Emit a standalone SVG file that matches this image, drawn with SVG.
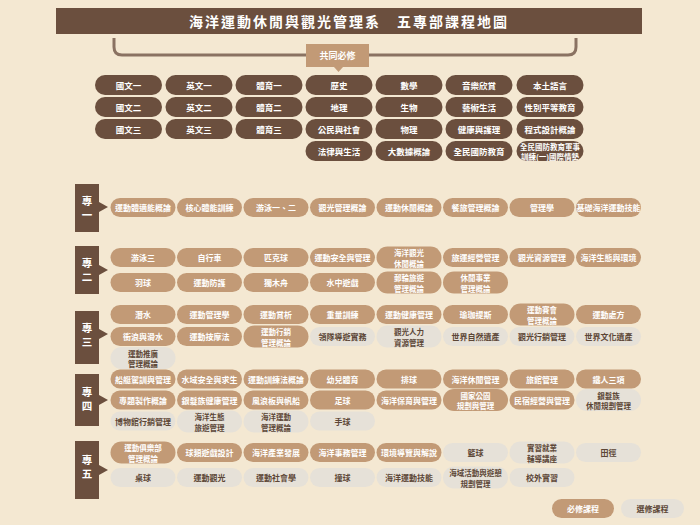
<svg xmlns="http://www.w3.org/2000/svg" width="700" height="525" viewBox="0 0 700 525">
<style>
text{font-family:"Noto Sans CJK TC","Noto Sans CJK SC",sans-serif;font-weight:bold;text-anchor:middle;dominant-baseline:central}
.c rect{fill:#6b4f3e}
.c text{fill:#ffffff;font-size:8.5px}
.r rect{fill:#c29a76}
.r text{fill:#ffffff;font-size:8px}
.e rect{fill:#e6e1d8}
.e text{fill:#5c4636;font-size:8px}
.r text.t2,.e text.t2,.c text.t2{font-size:7.5px}
.s rect,.s path{fill:#6b4f3e}
.s text{fill:#ffffff;font-size:10.5px}
</style>
<defs>
<clipPath id="clipc25"><rect x="516.5" y="141" width="67" height="20" rx="10"/></clipPath>
</defs>
<rect width="700" height="525" fill="#f4e8d2"/>
<g id="title">
<rect x="56" y="8" width="586" height="26" fill="#6b4f3e"/>
<text x="349" y="21" fill="#ffffff" style="font-size:14px;letter-spacing:2px">海洋運動休閒與觀光管理系　五專部課程地圖</text>
</g>
<g id="connectors">
<path d="M114 38 V47 Q114 55 122 55 H568 Q576 55 576 47 V38" fill="none" stroke="#8a7262" stroke-width="3"/>
</g>
<g id="common-label">
<rect x="306" y="44" width="63" height="23" fill="#c29a76"/>
<path d="M334 67 L343 67 L338.5 72 Z" fill="#c29a76"/>
<text x="337.5" y="55.5" fill="#ffffff" style="font-size:9px">共同必修</text>
</g>
<g id="common" class="c">
<g id="c1"><rect x="95" y="75" width="67" height="20" rx="10"/><text x="128.5" y="85">國文一</text></g>
<g id="c2"><rect x="95" y="97" width="67" height="20" rx="10"/><text x="128.5" y="107">國文二</text></g>
<g id="c3"><rect x="95" y="119" width="67" height="20" rx="10"/><text x="128.5" y="129">國文三</text></g>
<g id="c4"><rect x="165.5" y="75" width="67" height="20" rx="10"/><text x="199" y="85">英文一</text></g>
<g id="c5"><rect x="165.5" y="97" width="67" height="20" rx="10"/><text x="199" y="107">英文二</text></g>
<g id="c6"><rect x="165.5" y="119" width="67" height="20" rx="10"/><text x="199" y="129">英文三</text></g>
<g id="c7"><rect x="235.5" y="75" width="67" height="20" rx="10"/><text x="269" y="85">體育一</text></g>
<g id="c8"><rect x="235.5" y="97" width="67" height="20" rx="10"/><text x="269" y="107">體育二</text></g>
<g id="c9"><rect x="235.5" y="119" width="67" height="20" rx="10"/><text x="269" y="129">體育三</text></g>
<g id="c10"><rect x="305.5" y="75" width="67" height="20" rx="10"/><text x="339" y="85">歷史</text></g>
<g id="c11"><rect x="305.5" y="97" width="67" height="20" rx="10"/><text x="339" y="107">地理</text></g>
<g id="c12"><rect x="305.5" y="119" width="67" height="20" rx="10"/><text x="339" y="129">公民與社會</text></g>
<g id="c13"><rect x="305.5" y="141" width="67" height="20" rx="10"/><text x="339" y="151">法律與生活</text></g>
<g id="c14"><rect x="375.5" y="75" width="67" height="20" rx="10"/><text x="409" y="85">數學</text></g>
<g id="c15"><rect x="375.5" y="97" width="67" height="20" rx="10"/><text x="409" y="107">生物</text></g>
<g id="c16"><rect x="375.5" y="119" width="67" height="20" rx="10"/><text x="409" y="129">物理</text></g>
<g id="c17"><rect x="375.5" y="141" width="67" height="20" rx="10"/><text x="409" y="151">大數據概論</text></g>
<g id="c18"><rect x="445.5" y="75" width="67" height="20" rx="10"/><text x="479" y="85">音樂欣賞</text></g>
<g id="c19"><rect x="445.5" y="97" width="67" height="20" rx="10"/><text x="479" y="107">藝術生活</text></g>
<g id="c20"><rect x="445.5" y="119" width="67" height="20" rx="10"/><text x="479" y="129">健康與護理</text></g>
<g id="c21"><rect x="445.5" y="141" width="67" height="20" rx="10"/><text x="479" y="151">全民國防教育</text></g>
<g id="c22"><rect x="516.5" y="75" width="67" height="20" rx="10"/><text x="550" y="85">本土語言</text></g>
<g id="c23"><rect x="516.5" y="97" width="67" height="20" rx="10"/><text x="550" y="107">性別平等教育</text></g>
<g id="c24"><rect x="516.5" y="119" width="67" height="20" rx="10"/><text x="550" y="129">程式設計概論</text></g>
<g id="c25"><rect x="516.5" y="141" width="67" height="20" rx="10"/><g clip-path="url(#clipc25)"><text class="t2" x="550" y="146">全民國防教育軍事<tspan x="550" y="156">訓練(一)國際情勢</tspan></text></g></g>
</g>
<g id="sec1" class="s"><rect x="75" y="184" width="24" height="48"/><path d="M99 202 L108 207 L99 212 Z"/><text x="87" y="200">專</text><text x="87" y="214">一</text></g>
<g id="sec2" class="s"><rect x="75" y="246" width="24" height="48"/><path d="M99 265 L108 270 L99 275 Z"/><text x="87" y="262">專</text><text x="87" y="276">二</text></g>
<g id="sec3" class="s"><rect x="75" y="311" width="24" height="53"/><path d="M99 329 L108 334 L99 339 Z"/><text x="87" y="327">專</text><text x="87" y="341">三</text></g>
<g id="sec4" class="s"><rect x="75" y="374" width="24" height="52"/><path d="M99 395 L108 400 L99 405 Z"/><text x="87" y="391">專</text><text x="87" y="405">四</text></g>
<g id="sec5" class="s"><rect x="75" y="441" width="24" height="58"/><path d="M99 465 L108 470 L99 475 Z"/><text x="87" y="459">專</text><text x="87" y="473">五</text></g>
<g id="year1">
<g id="a1" class="r"><rect x="110.5" y="198" width="65" height="19" rx="9.5"/><text x="143" y="207.5">運動體適能概論</text></g>
<g id="a2" class="r"><rect x="177" y="198" width="65" height="19" rx="9.5"/><text x="209.5" y="207.5">核心體能訓練</text></g>
<g id="a3" class="r"><rect x="243.5" y="198" width="65" height="19" rx="9.5"/><text x="276" y="207.5">游泳一、二</text></g>
<g id="a4" class="r"><rect x="310" y="198" width="65" height="19" rx="9.5"/><text x="342.5" y="207.5">觀光管理概論</text></g>
<g id="a5" class="r"><rect x="376.5" y="198" width="65" height="19" rx="9.5"/><text x="409" y="207.5">運動休閒概論</text></g>
<g id="a6" class="r"><rect x="443" y="198" width="65" height="19" rx="9.5"/><text x="475.5" y="207.5">餐旅管理概論</text></g>
<g id="a7" class="r"><rect x="509.5" y="198" width="65" height="19" rx="9.5"/><text x="542" y="207.5">管理學</text></g>
<g id="a8" class="r"><rect x="576" y="198" width="65" height="19" rx="9.5"/><text x="608.5" y="207.5">基礎海洋運動技能</text></g>
</g>
<g id="year2">
<g id="b1" class="r"><rect x="110.5" y="248" width="65" height="19" rx="9.5"/><text x="143" y="257.5">游泳三</text></g>
<g id="b2" class="r"><rect x="177" y="248" width="65" height="19" rx="9.5"/><text x="209.5" y="257.5">自行車</text></g>
<g id="b3" class="r"><rect x="243.5" y="248" width="65" height="19" rx="9.5"/><text x="276" y="257.5">匹克球</text></g>
<g id="b4" class="r"><rect x="310" y="248" width="65" height="19" rx="9.5"/><text x="342.5" y="257.5">運動安全與管理</text></g>
<g id="b5" class="r"><rect x="376.5" y="246.5" width="65" height="22" rx="11"/><text class="t2" x="409" y="252.5">海洋觀光<tspan x="409" y="262.5">休閒概論</tspan></text></g>
<g id="b6" class="r"><rect x="443" y="248" width="65" height="19" rx="9.5"/><text x="475.5" y="257.5">旅運經營管理</text></g>
<g id="b7" class="r"><rect x="509.5" y="248" width="65" height="19" rx="9.5"/><text x="542" y="257.5">觀光資源管理</text></g>
<g id="b8" class="r"><rect x="576" y="248" width="65" height="19" rx="9.5"/><text x="608.5" y="257.5">海洋生態與環境</text></g>
<g id="b9" class="r"><rect x="110.5" y="273" width="65" height="19" rx="9.5"/><text x="143" y="282.5">羽球</text></g>
<g id="b10" class="r"><rect x="177" y="273" width="65" height="19" rx="9.5"/><text x="209.5" y="282.5">運動防護</text></g>
<g id="b11" class="r"><rect x="243.5" y="273" width="65" height="19" rx="9.5"/><text x="276" y="282.5">獨木舟</text></g>
<g id="b12" class="r"><rect x="310" y="273" width="65" height="19" rx="9.5"/><text x="342.5" y="282.5">水中遊戲</text></g>
<g id="b13" class="r"><rect x="376.5" y="271.5" width="65" height="22" rx="11"/><text class="t2" x="409" y="277.5">郵輪旅遊<tspan x="409" y="287.5">管理概論</tspan></text></g>
<g id="b14" class="r"><rect x="443" y="271.5" width="65" height="22" rx="11"/><text class="t2" x="475.5" y="277.5">休閒事業<tspan x="475.5" y="287.5">管理概論</tspan></text></g>
</g>
<g id="year3">
<g id="d1" class="r"><rect x="110.5" y="305" width="65" height="19" rx="9.5"/><text x="143" y="314.5">潛水</text></g>
<g id="d2" class="r"><rect x="177" y="305" width="65" height="19" rx="9.5"/><text x="209.5" y="314.5">運動管理學</text></g>
<g id="d3" class="r"><rect x="243.5" y="305" width="65" height="19" rx="9.5"/><text x="276" y="314.5">運動賞析</text></g>
<g id="d4" class="r"><rect x="310" y="305" width="65" height="19" rx="9.5"/><text x="342.5" y="314.5">重量訓練</text></g>
<g id="d5" class="r"><rect x="376.5" y="305" width="65" height="19" rx="9.5"/><text x="409" y="314.5">運動健康管理</text></g>
<g id="d6" class="r"><rect x="443" y="305" width="65" height="19" rx="9.5"/><text x="475.5" y="314.5">瑜珈提斯</text></g>
<g id="d7" class="r"><rect x="509.5" y="303.5" width="65" height="22" rx="11"/><text class="t2" x="542" y="309.5">運動賽會<tspan x="542" y="319.5">管理概論</tspan></text></g>
<g id="d8" class="r"><rect x="576" y="305" width="65" height="19" rx="9.5"/><text x="608.5" y="314.5">運動處方</text></g>
<g id="d9" class="r"><rect x="110.5" y="327" width="65" height="19" rx="9.5"/><text x="143" y="336.5">衝浪與滑水</text></g>
<g id="d10" class="r"><rect x="177" y="327" width="65" height="19" rx="9.5"/><text x="209.5" y="336.5">運動按摩法</text></g>
<g id="d11" class="r"><rect x="243.5" y="325.5" width="65" height="22" rx="11"/><text class="t2" x="276" y="331.5">運動行銷<tspan x="276" y="341.5">管理概論</tspan></text></g>
<g id="d12" class="e"><rect x="310" y="327" width="65" height="19" rx="9.5"/><text x="342.5" y="336.5">領隊導遊實務</text></g>
<g id="d13" class="e"><rect x="376.5" y="325.5" width="65" height="22" rx="11"/><text class="t2" x="409" y="331.5">觀光人力<tspan x="409" y="341.5">資源管理</tspan></text></g>
<g id="d14" class="e"><rect x="443" y="327" width="65" height="19" rx="9.5"/><text x="475.5" y="336.5">世界自然遺產</text></g>
<g id="d15" class="e"><rect x="509.5" y="327" width="65" height="19" rx="9.5"/><text x="542" y="336.5">觀光行銷管理</text></g>
<g id="d16" class="e"><rect x="576" y="327" width="65" height="19" rx="9.5"/><text x="608.5" y="336.5">世界文化遺產</text></g>
<g id="d17" class="e"><rect x="110.5" y="347" width="65" height="22" rx="11"/><text class="t2" x="143" y="353">運動推廣<tspan x="143" y="363">管理概論</tspan></text></g>
</g>
<g id="year4">
<g id="f1" class="r"><rect x="110.5" y="369.5" width="65" height="19" rx="9.5"/><text x="143" y="379">船艇駕訓與管理</text></g>
<g id="f2" class="r"><rect x="177" y="369.5" width="65" height="19" rx="9.5"/><text x="209.5" y="379">水域安全與求生</text></g>
<g id="f3" class="r"><rect x="243.5" y="369.5" width="65" height="19" rx="9.5"/><text x="276" y="379">運動訓練法概論</text></g>
<g id="f4" class="r"><rect x="310" y="369.5" width="65" height="19" rx="9.5"/><text x="342.5" y="379">幼兒體育</text></g>
<g id="f5" class="r"><rect x="376.5" y="369.5" width="65" height="19" rx="9.5"/><text x="409" y="379">排球</text></g>
<g id="f6" class="r"><rect x="443" y="369.5" width="65" height="19" rx="9.5"/><text x="475.5" y="379">海洋休閒管理</text></g>
<g id="f7" class="r"><rect x="509.5" y="369.5" width="65" height="19" rx="9.5"/><text x="542" y="379">旅館管理</text></g>
<g id="f8" class="r"><rect x="576" y="369.5" width="65" height="19" rx="9.5"/><text x="608.5" y="379">鐵人三項</text></g>
<g id="f9" class="r"><rect x="110.5" y="390.5" width="65" height="19" rx="9.5"/><text x="143" y="400">專題製作概論</text></g>
<g id="f10" class="r"><rect x="177" y="390.5" width="65" height="19" rx="9.5"/><text x="209.5" y="400">銀髮族健康管理</text></g>
<g id="f11" class="r"><rect x="243.5" y="390.5" width="65" height="19" rx="9.5"/><text x="276" y="400">風浪板與帆船</text></g>
<g id="f12" class="r"><rect x="310" y="390.5" width="65" height="19" rx="9.5"/><text x="342.5" y="400">足球</text></g>
<g id="f13" class="r"><rect x="376.5" y="390.5" width="65" height="19" rx="9.5"/><text x="409" y="400">海洋保育與管理</text></g>
<g id="f14" class="r"><rect x="443" y="389" width="65" height="22" rx="11"/><text class="t2" x="475.5" y="395">國家公園<tspan x="475.5" y="405">規劃與管理</tspan></text></g>
<g id="f15" class="r"><rect x="509.5" y="390.5" width="65" height="19" rx="9.5"/><text x="542" y="400">民宿經營與管理</text></g>
<g id="f16" class="e"><rect x="576" y="389" width="65" height="22" rx="11"/><text class="t2" x="608.5" y="395">銀髮族<tspan x="608.5" y="405">休閒規劃管理</tspan></text></g>
<g id="f17" class="e"><rect x="110.5" y="411.5" width="65" height="19" rx="9.5"/><text x="143" y="421">博物館行銷管理</text></g>
<g id="f18" class="e"><rect x="177" y="410.5" width="65" height="22" rx="11"/><text class="t2" x="209.5" y="416.5">海洋生態<tspan x="209.5" y="426.5">旅遊管理</tspan></text></g>
<g id="f19" class="e"><rect x="243.5" y="410.5" width="65" height="22" rx="11"/><text class="t2" x="276" y="416.5">海洋運動<tspan x="276" y="426.5">管理概論</tspan></text></g>
<g id="f20" class="e"><rect x="310" y="411.5" width="65" height="19" rx="9.5"/><text x="342.5" y="421">手球</text></g>
</g>
<g id="year5">
<g id="g1" class="r"><rect x="110.5" y="441.5" width="65" height="22" rx="11"/><text class="t2" x="143" y="447.5">運動俱樂部<tspan x="143" y="457.5">管理概論</tspan></text></g>
<g id="g2" class="r"><rect x="177" y="443" width="65" height="19" rx="9.5"/><text x="209.5" y="452.5">球類遊戲設計</text></g>
<g id="g3" class="r"><rect x="243.5" y="443" width="65" height="19" rx="9.5"/><text x="276" y="452.5">海洋產業發展</text></g>
<g id="g4" class="r"><rect x="310" y="443" width="65" height="19" rx="9.5"/><text x="342.5" y="452.5">海洋事務管理</text></g>
<g id="g5" class="r"><rect x="376.5" y="443" width="65" height="19" rx="9.5"/><text x="409" y="452.5">環境導覽與解說</text></g>
<g id="g6" class="e"><rect x="443" y="443" width="65" height="19" rx="9.5"/><text x="475.5" y="452.5">籃球</text></g>
<g id="g7" class="e"><rect x="509.5" y="441.5" width="65" height="22" rx="11"/><text class="t2" x="542" y="447.5">實習就業<tspan x="542" y="457.5">輔導講座</tspan></text></g>
<g id="g8" class="e"><rect x="576" y="443" width="65" height="19" rx="9.5"/><text x="608.5" y="452.5">田徑</text></g>
<g id="g9" class="e"><rect x="110.5" y="468" width="65" height="19" rx="9.5"/><text x="143" y="477.5">桌球</text></g>
<g id="g10" class="e"><rect x="177" y="468" width="65" height="19" rx="9.5"/><text x="209.5" y="477.5">運動觀光</text></g>
<g id="g11" class="e"><rect x="243.5" y="468" width="65" height="19" rx="9.5"/><text x="276" y="477.5">運動社會學</text></g>
<g id="g12" class="e"><rect x="310" y="468" width="65" height="19" rx="9.5"/><text x="342.5" y="477.5">撞球</text></g>
<g id="g13" class="e"><rect x="376.5" y="468" width="65" height="19" rx="9.5"/><text x="409" y="477.5">海洋運動技能</text></g>
<g id="g14" class="e"><rect x="443" y="466.5" width="65" height="22" rx="11"/><text class="t2" x="475.5" y="472.5">海域活動與遊憩<tspan x="475.5" y="482.5">規劃管理</tspan></text></g>
<g id="g15" class="e"><rect x="509.5" y="468" width="65" height="19" rx="9.5"/><text x="542" y="477.5">校外實習</text></g>
</g>
<g id="legend">
<g id="leg-req" class="r"><rect x="552" y="499" width="62" height="19" rx="9.5"/><text x="583" y="508.5">必修課程</text></g>
<g id="leg-ele" class="e"><rect x="621" y="499" width="63" height="19" rx="9.5"/><text x="652.5" y="508.5">選修課程</text></g>
</g>
</svg>
